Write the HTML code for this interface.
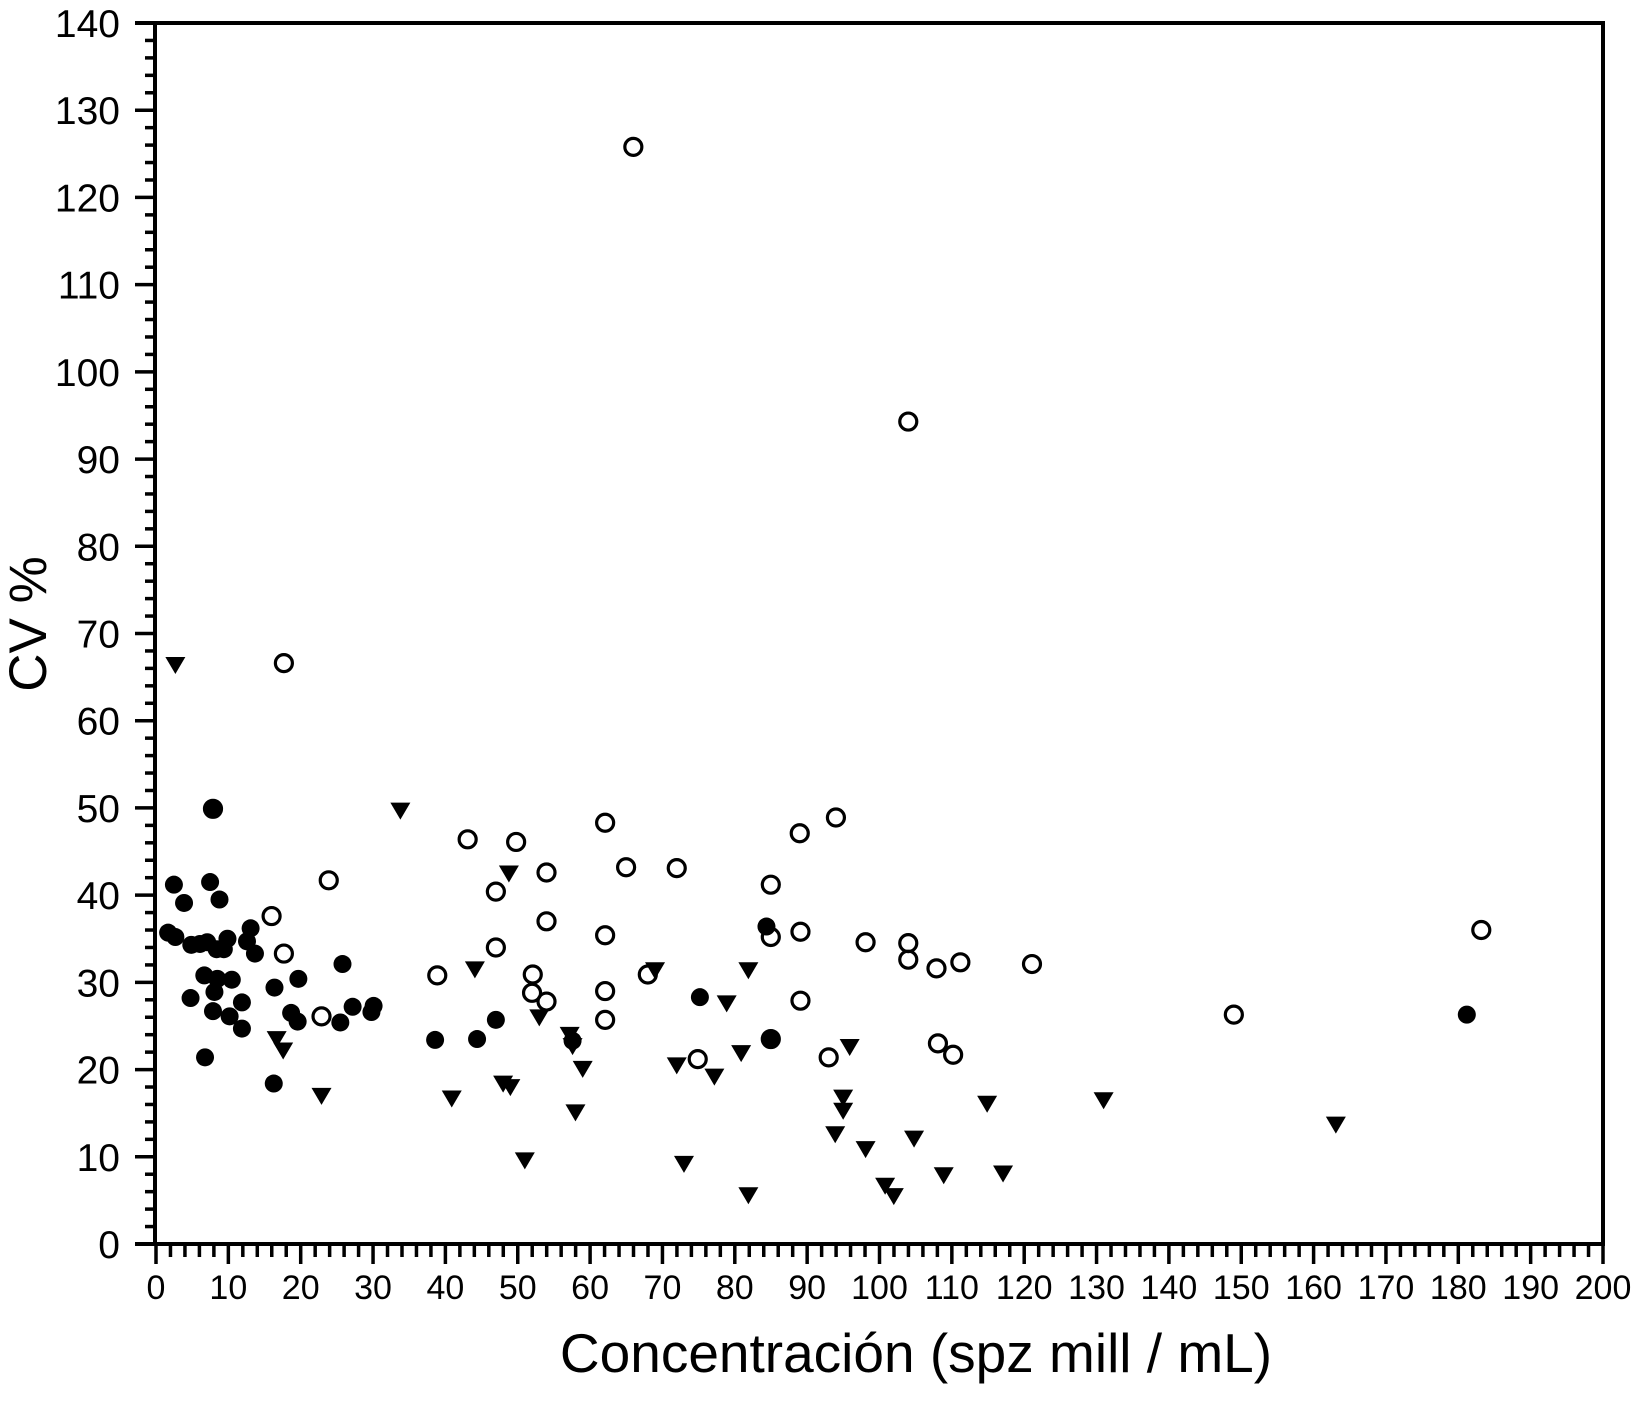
<!DOCTYPE html>
<html><head><meta charset="utf-8"><style>
html,body{margin:0;padding:0;background:#fff}
text{font-family:"Liberation Sans",Arial,sans-serif;fill:#000}
</style></head><body>
<svg id="chart" width="1632" height="1396" viewBox="0 0 1632 1396" xmlns="http://www.w3.org/2000/svg">
<g id="axes"></g>
<g id="marks"></g>
<text x="916" y="1372" font-size="55" text-anchor="middle">Concentración (spz mill / mL)</text>
<text transform="translate(46,624) rotate(-90)" font-size="53" text-anchor="middle">CV %</text>
</svg>
<script>
const xTicks=[0,10,20,30,40,50,60,70,80,90,100,110,120,130,140,150,160,170,180,190,200];
const yTicks=[0,10,20,30,40,50,60,70,80,90,100,110,120,130,140];
const openX=[65.7,103.7,17.4,61.8,93.7,42.8,49.5,88.7,64.7,71.7,53.7,23.6,84.7,46.7,15.7,53.7,182.9,88.8,61.8,84.7,97.8,103.7,46.7,17.4,103.7,110.9,120.8,107.6,38.6,51.8,67.7,51.7,61.8,88.8,53.7,22.6,148.7,61.8,74.6,92.7,107.8,109.9,84.7,7.6];
const openY=[125.8,94.3,66.6,48.3,48.9,46.4,46.1,47.1,43.2,43.1,42.6,41.7,41.2,40.4,37.6,37.0,36.0,35.8,35.4,35.2,34.6,34.5,34.0,33.3,32.6,32.3,32.1,31.6,30.8,30.9,30.9,28.8,29.0,27.9,27.8,26.1,26.3,25.7,21.2,21.4,23.0,21.7,23.5,49.9];
const filledX=[7.6,2.2,7.2,3.6,8.5,1.4,2.4,12.8,4.6,5.8,6.8,9.6,12.3,8.1,9.1,13.4,25.5,6.4,8.2,10.2,19.4,16.1,7.8,4.5,11.6,26.9,29.8,29.5,7.6,9.9,18.4,19.3,25.2,11.6,46.7,38.3,44.1,57.3,84.7,6.5,16.0,74.9,84.1,180.9];
const filledY=[49.9,41.2,41.5,39.1,39.5,35.7,35.2,36.2,34.3,34.4,34.6,35.0,34.7,33.8,33.8,33.3,32.1,30.8,30.4,30.3,30.4,29.4,28.9,28.2,27.7,27.2,27.3,26.6,26.7,26.1,26.5,25.5,25.4,24.7,25.7,23.4,23.5,23.3,23.4,21.4,18.4,28.3,36.4,26.3];
const triX=[2.4,33.5,48.5,43.8,68.7,81.6,78.6,52.7,56.9,57.3,16.4,17.3,58.7,71.7,76.9,80.6,95.6,47.7,48.7,22.6,40.6,57.7,94.7,94.7,114.6,130.7,162.8,93.6,104.5,97.8,50.7,72.7,108.6,116.8,100.5,101.7,81.6];
const triY=[66.5,49.8,42.6,31.6,31.5,31.5,27.7,26.1,24.1,22.8,23.6,22.3,20.2,20.6,19.3,22.0,22.7,18.5,18.1,17.1,16.8,15.2,16.9,15.4,16.2,16.6,13.8,12.7,12.2,11.0,9.7,9.3,8.0,8.2,6.8,5.6,5.7];

const X0=156,X1=1603,Y0=1244,Y1=23;
const sx=v=>X0+(v/200)*(X1-X0);
const sy=v=>Y0-(v/140)*(Y0-Y1);
const NS='http://www.w3.org/2000/svg';
function mk(tag,attrs,parent){const e=document.createElementNS(NS,tag);for(const k in attrs)e.setAttribute(k,attrs[k]);parent.appendChild(e);return e;}
const ax=document.getElementById('axes');
let l;
l=mk('path',{d:`M${X0-1} ${Y1} V${Y0} M${X0-21} ${Y0} H${X1} V${Y1} H${X0-21}`,stroke:'#000','stroke-width':4,fill:'none'},ax);


for(let v=0;v<=200;v+=2){
  const major=v%10===0;
  const t=mk('line',{x1:sx(v),x2:sx(v),y1:Y0,y2:Y0+(major?20:13),stroke:'#000','stroke-width':3.5},ax);
  
  
}
for(let v=0;v<=140;v+=2){
  const major=v%10===0;
  const t=mk('line',{x1:X0-1,x2:X0-1-(major?20:10),y1:sy(v),y2:sy(v),stroke:'#000','stroke-width':3.5},ax);
  
  
}
xTicks.forEach(v=>{
  const t=mk('text',{x:sx(v),y:1299,'font-size':34,'text-anchor':'middle'},ax);
  t.textContent=v;
  
  
});
yTicks.forEach(v=>{
  const t=mk('text',{x:120,y:sy(v)+14,'font-size':39,'text-anchor':'end'},ax);
  t.textContent=v;
  
  
});
const mg=document.getElementById('marks');
const dx=2;
triX.forEach((v,i)=>{
  const x=sx(v)+dx,y=sy(triY[i]);
  const p=mk('path',{d:`M${x-10} ${y-7} H${x+10} L${x} ${y+10} Z`,fill:'#000'},mg);
  
  
});
filledX.forEach((v,i)=>{
  const c=mk('circle',{cx:sx(v)+dx,cy:sy(filledY[i]),r:9,fill:'#000'},mg);
  
  
});
openX.forEach((v,i)=>{
  const c=mk('circle',{cx:sx(v)+dx,cy:sy(openY[i]),r:8.5,fill:'none',stroke:'#000','stroke-width':3.2},mg);
  
  
});
</script>
</body></html>
